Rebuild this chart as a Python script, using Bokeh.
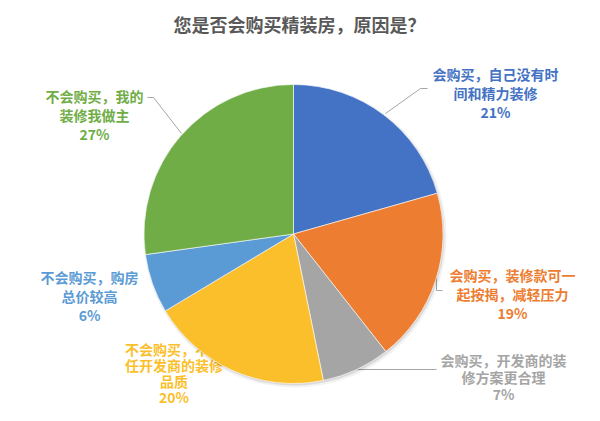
import math
from bokeh.plotting import figure
from bokeh.models import Range1d
from bokeh.embed import file_html
from bokeh.resources import INLINE
from bokeh.core.properties import value

# ---------------- data ----------------
title_text = "您是否会购买精装房，原因是？"
categories = [
    "会购买，自己没有时间和精力装修",
    "会购买，装修款可一起按揭，减轻压力",
    "会购买，开发商的装修方案更合理",
    "不会购买，不信任开发商的装修品质",
    "不会购买，购房总价较高",
    "不会购买，我的装修我做主",
]
shares = [20.6, 18.8, 7.4, 19.6, 6.4, 27.2]
colors = ["#4472C4", "#ED7D31", "#A5A5A5", "#FCBF2C", "#5B9BD5", "#70AD47"]
label_lines = [
    ["会购买，自己没有时", "间和精力装修"],
    ["会购买，装修款可一", "起按揭，减轻压力"],
    ["会购买，开发商的装", "修方案更合理"],
    ["不会购买，不信", "任开发商的装修", "品质"],
    ["不会购买，购房", "总价较高"],
    ["不会购买，我的", "装修我做主"],
]

# ---------------- layout (reference pixel coords) ----------------
W, H = 600, 421
FONT = "Noto Sans CJK SC"
cx, cy_ref, R = 293.0, 233.5, 149.5
label_anchor = [(495, 73), (512, 274), (503, 359), (173.5, 348), (89, 276), (94, 95)]
label_gap = [19, 19, 17, 16, 19, 19]
leaders = [
    [(427, 88), (420, 88), (385, 113)],
    [(436, 277), (436, 290), (442, 290)],
    [(357, 369), (436, 369)],
    None,
    None,
    [(147, 97), (153, 97), (181, 133)],
]


def fy(y):
    return H - y


p = figure(width=584, height=405, output_backend="svg", toolbar_location=None,
           x_range=Range1d(0, 584), y_range=Range1d(16, 421), min_border=0)
p.axis.visible = False
p.grid.visible = False
p.outline_line_color = None
p.background_fill_color = "white"
p.border_fill_color = "white"

# title
p.text(x=[299], y=[fy(23)], text=[title_text], text_font=value(FONT),
       text_font_size="18px", text_font_style="bold", text_color="#595959",
       text_align="center", text_baseline="middle")

# labels (drawn beneath the pie)
for i, lines in enumerate(label_lines):
    allx, ally, allt = [], [], []
    ax, ay = label_anchor[i]
    texts = lines + [f"{round(shares[i])}%"]
    for k, t in enumerate(texts):
        allx.append(ax)
        ally.append(fy(ay + k * label_gap[i]))
        allt.append(t)
    p.text(x=allx, y=ally, text=allt, text_font=value(FONT), text_font_size="14px",
           text_font_style="bold", text_color=colors[i], text_align="center",
           text_baseline="middle")
    if leaders[i]:
        p.line(x=[q[0] for q in leaders[i]], y=[fy(q[1]) for q in leaders[i]],
               line_color="#A6A6A6", line_width=1)

# shadow
cy = fy(cy_ref)
p.circle(x=[cx + 1.5], y=[cy - 2.0], radius=151.5, fill_color="black", fill_alpha=0.05,
         line_color=None)
p.circle(x=[cx + 1.0], y=[cy - 1.5], radius=150.0, fill_color="black", fill_alpha=0.10,
         line_color=None)

# pie (clockwise from 12 o'clock)
total = sum(shares)
starts, ends = [], []
cum = 0.0
for s in shares:
    a0 = math.pi / 2 - 2 * math.pi * (cum + s) / total
    a1 = math.pi / 2 - 2 * math.pi * cum / total
    starts.append(a0)
    ends.append(a1)
    cum += s
p.wedge(x=[cx] * len(shares), y=[cy] * len(shares), radius=R, start_angle=starts,
        end_angle=ends, fill_color=colors, line_color="white", line_width=0.6)

open("out.html", "w").write(file_html(p, INLINE))
